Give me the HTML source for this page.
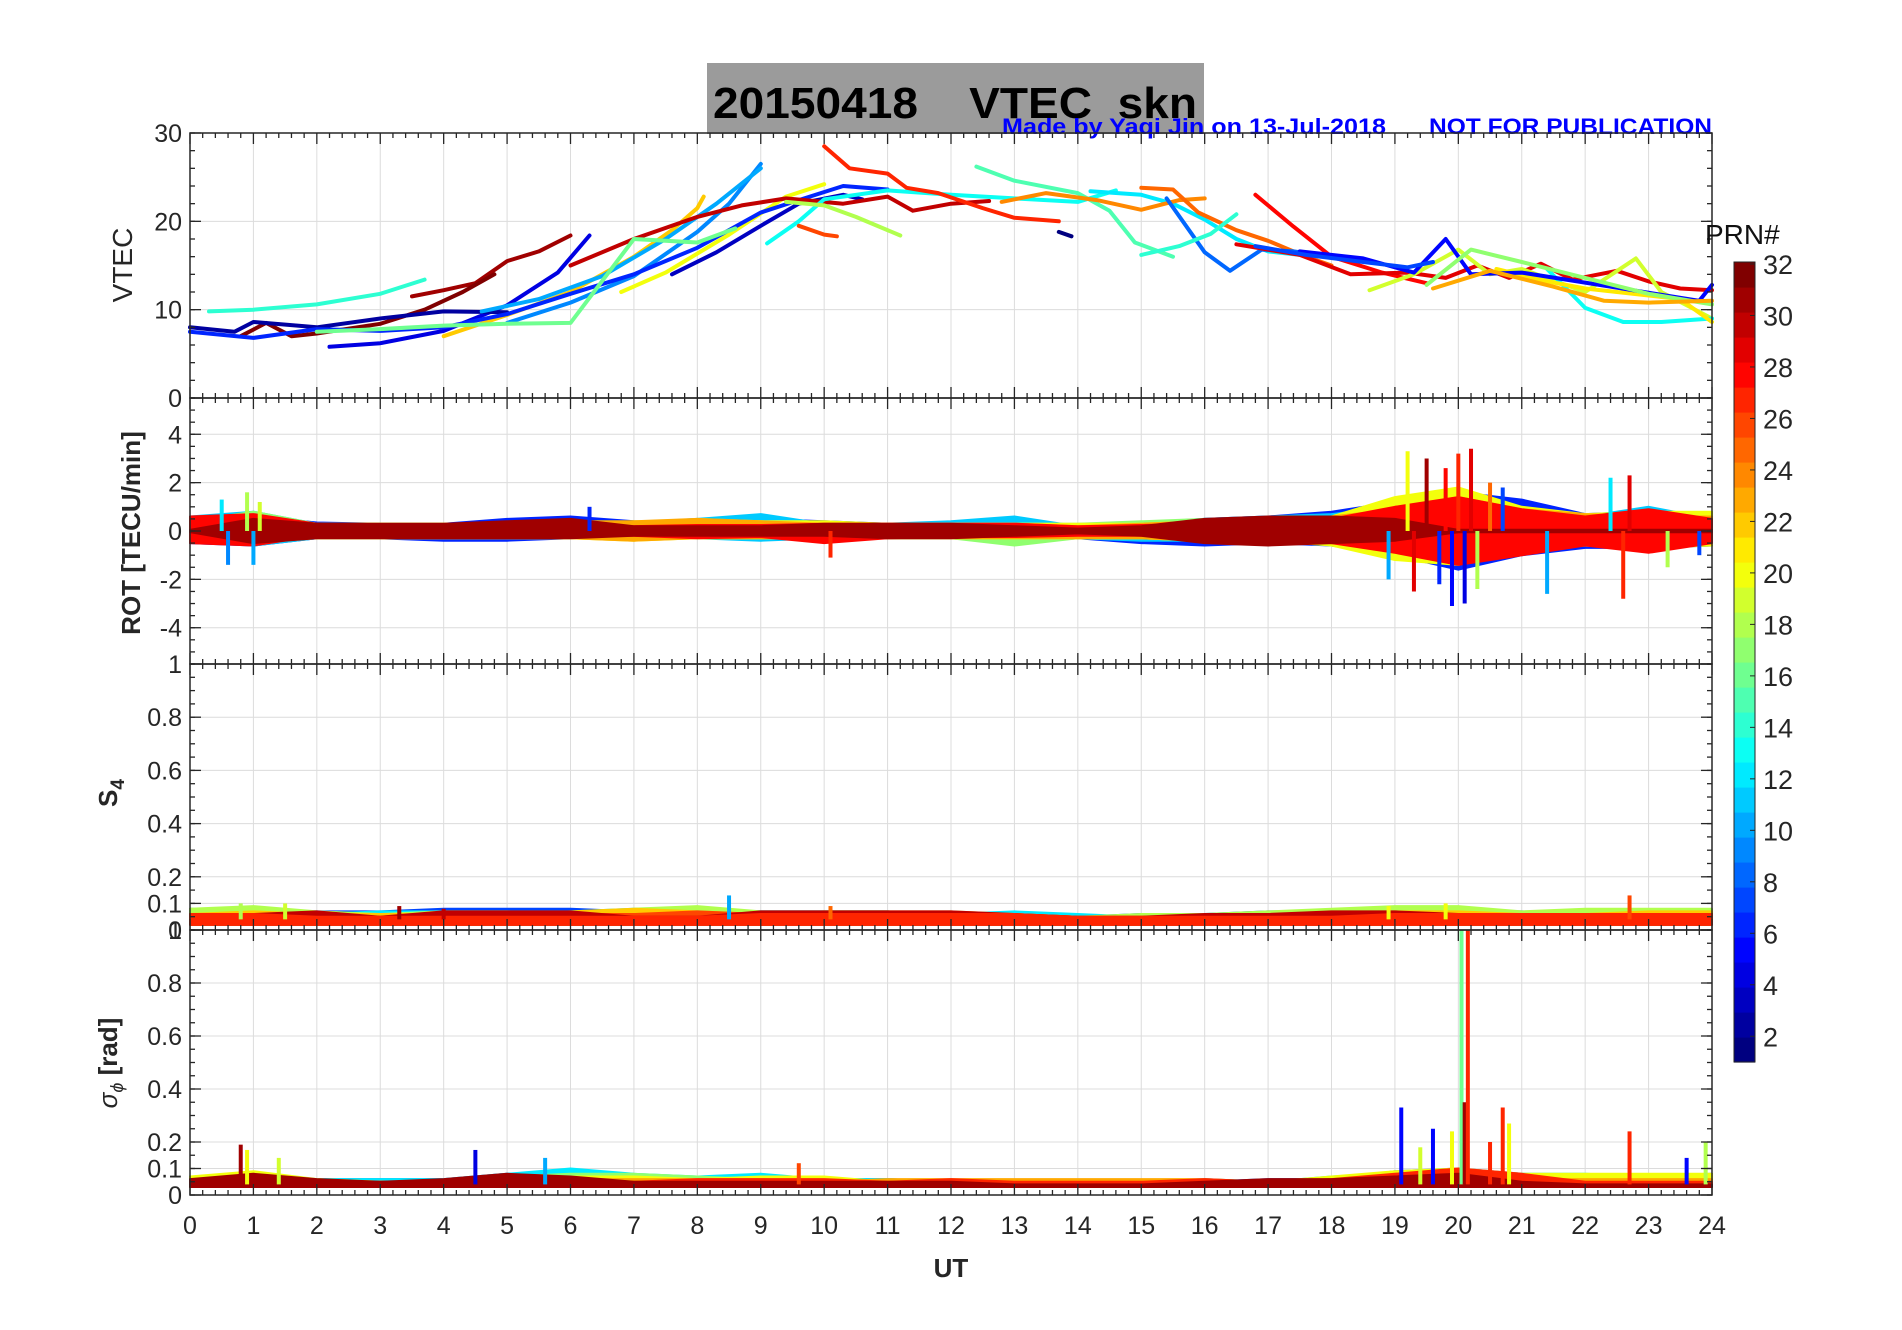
<!DOCTYPE html>
<html><head><meta charset="utf-8"><style>
html,body{margin:0;padding:0;background:#fff;}
svg{display:block;font-family:"Liberation Sans",sans-serif;}
</style></head><body>
<svg id="fig" width="1902" height="1330" viewBox="0 0 1902 1330" xmlns="http://www.w3.org/2000/svg">
<rect x="0" y="0" width="1902" height="1330" fill="#fff"/>
<rect x="707" y="63" width="497" height="71" fill="#9b9b9b"/>
<text x="713" y="118" font-size="44" font-weight="bold" textLength="484" lengthAdjust="spacingAndGlyphs" style="white-space:pre" xml:space="preserve">20150418    VTEC  skn</text>
<text x="1002" y="134" font-size="22" font-weight="bold" fill="#0000ff" textLength="384" lengthAdjust="spacingAndGlyphs">Made by Yaqi Jin on 13-Jul-2018</text>
<text x="1429" y="134" font-size="22" font-weight="bold" fill="#0000ff" textLength="283" lengthAdjust="spacingAndGlyphs">NOT FOR PUBLICATION</text>
<g id="plots"></g>
</svg>
<script>
// ---------- data ----------
const hours = [0,1,2,3,4,5,6,7,8,9,10,11,12,13,14,15,16,17,18,19,20,21,22,23,24];
const vtecTicks = [0,10,20,30];
const rotTicks = [-4,-2,0,2,4];
const s4Ticks = [0,0.1,0.2,0.4,0.6,0.8,1];
const sigTicks = [0,0.1,0.2,0.4,0.6,0.8,1];
const cbTicks = [2,4,6,8,10,12,14,16,18,20,22,24,26,28,30,32];

const vtecPrn = [14,31,32,4,2,22,9,10,20,3,6,30,16,13,27,26,18,1,15,12,24,25,8,28,14,29,19,13,21,5,17,7,23];
const vtecSeries = [
 [[0.3,9.8],[1,10],[2,10.6],[3,11.8],[3.7,13.4]],
 [[3.5,11.5],[4,12.2],[4.5,13],[5,15.5],[5.5,16.6],[6,18.4]],
 [[0.8,7],[1.2,8.5],[1.6,7],[2,7.3],[3,8.4],[3.7,10],[4.3,12],[4.8,14]],
 [[2.2,5.8],[3,6.2],[4,7.6],[5,10.5],[5.8,14.2],[6.3,18.4]],
 [[0,8],[0.7,7.5],[1,8.6],[2,8],[3,9],[4,9.8],[5,9.7]],
 [[4,7],[5,9.4],[6,12],[7,16],[7.6,19],[8,21.5],[8.1,22.8]],
 [[5,8.5],[6,10.8],[7,13.8],[8,18.8],[8.5,22],[9,26.5]],
 [[4.6,9.8],[5.5,11.2],[6.5,13.8],[7.5,18],[8.3,22],[9,26]],
 [[6.8,12],[7.5,14.2],[8.5,18.5],[9.4,22.8],[10,24.2]],
 [[7.6,14],[8.3,16.5],[9,19.5],[9.6,22],[10.3,23],[10.6,22.5]],
 [[0,7.5],[1,6.8],[2,7.8],[3,7.6],[4,8],[5,9.5],[6,11.8],[7,14],[8,17],[9,21],[9.6,22.4],[10.3,24],[11,23.6]],
 [[6,15],[7,18],[8,20.5],[8.7,21.8],[9.4,22.6],[10.3,22],[11,22.8],[11.4,21.2],[12,22],[12.6,22.3]],
 [[2,7.5],[3,7.8],[4,8.2],[5,8.4],[6,8.5],[7,18],[8,17.6],[8.6,19.2]],
 [[9.1,17.5],[9.6,20],[10,22.5],[11,23.5],[12,23],[13,22.6],[14,22.2],[14.6,23.5]],
 [[10,28.5],[10.4,26],[11,25.4],[11.3,23.8],[11.8,23.2],[12.5,21.5],[13,20.4],[13.7,20]],
 [[9.6,19.5],[10,18.5],[10.2,18.3]],
 [[9.4,22.2],[10,21.8],[10.5,20.5],[11.2,18.4]],
 [[13.7,18.8],[13.9,18.3]],
 [[12.4,26.2],[13,24.6],[14,23.2],[14.5,21.2],[14.9,17.6],[15.5,16]],
 [[14.2,23.4],[15,23],[15.5,22],[16,20.2],[16.5,18],[17,16.6],[17.5,16.2]],
 [[12.8,22.2],[13.5,23.2],[14.3,22.4],[15,21.3],[15.6,22.4],[16,22.6]],
 [[15,23.8],[15.5,23.6],[15.9,21],[16.5,19],[17,17.8],[17.6,16],[18,15]],
 [[15.4,22.6],[16,16.5],[16.4,14.4],[16.9,16.8],[17.4,16.6],[18,16]],
 [[16.8,23],[17.4,19.4],[18,16],[18.8,14.2],[19.5,13]],
 [[15,16.2],[15.6,17.2],[16.1,18.6],[16.5,20.8]],
 [[16.5,17.4],[17.5,16.2],[18.3,14],[19.2,14.2],[19.8,13.6],[20.3,15],[20.8,13.6],[21.3,15.2],[21.8,13.4],[22.5,14.4],[23,13.2],[23.5,12.4],[24,12.2]],
 [[18.6,12.2],[19.3,14],[20,16.8],[20.5,14],[21,14.6],[22,12],[22.8,15.8],[23.2,12],[24,9]],
 [[21.4,14.6],[22,10.2],[22.6,8.6],[23.2,8.6],[24,9]],
 [[20.6,14.6],[21.4,13.2],[22,12.4],[23,11.6],[23.5,11.2],[24,8.6]],
 [[17.5,16.6],[18.5,15.8],[19.3,14.2],[19.8,18],[20.2,14],[21,14.2],[23.8,11],[24,12.8]],
 [[19.5,12.8],[20.2,16.8],[21,15.4],[22,13.6],[23,11.8],[24,10.6]],
 [[16.8,17.2],[17.6,16.2],[18.5,15.4],[19.2,14.8],[19.6,15.4]],
 [[19.6,12.4],[20.5,14.4],[21.5,12.6],[22.3,11],[23,10.8],[24,11]]
];

const rotPrn = [6,11,17,20,23,28,31];
const rotUpper = [
 [0.5,0.6,0.35,0.3,0.3,0.5,0.6,0.4,0.35,0.5,0.4,0.3,0.3,0.4,0.25,0.35,0.5,0.6,0.8,1.2,1.6,1.3,0.7,0.8,0.6],
 [0.6,0.8,0.3,0.3,0.3,0.3,0.4,0.35,0.5,0.7,0.3,0.3,0.4,0.6,0.2,0.35,0.5,0.6,0.7,1.0,1.4,0.8,0.6,1.0,0.5],
 [0.4,0.8,0.3,0.3,0.3,0.3,0.4,0.3,0.5,0.4,0.3,0.3,0.3,0.3,0.3,0.4,0.5,0.4,0.5,0.8,1.4,0.8,0.7,0.7,0.5],
 [0.4,0.6,0.3,0.3,0.3,0.3,0.3,0.4,0.4,0.4,0.4,0.3,0.3,0.3,0.3,0.3,0.4,0.5,0.6,1.4,1.8,1.0,0.7,0.8,0.8],
 [0.3,0.4,0.3,0.3,0.3,0.3,0.4,0.4,0.5,0.4,0.3,0.3,0.3,0.3,0.2,0.3,0.4,0.4,0.6,0.9,1.4,0.9,0.7,0.6,0.6],
 [0.6,0.7,0.3,0.2,0.2,0.2,0.2,0.2,0.25,0.25,0.3,0.3,0.3,0.3,0.2,0.25,0.3,0.35,0.5,1.0,1.4,0.9,0.6,0.9,0.5],
 [0.05,0.5,0.3,0.3,0.3,0.4,0.5,0.2,0.2,0.2,0.3,0.3,0.3,0.2,0.1,0.2,0.5,0.6,0.6,0.5,0.05,0.05,0.05,0.05,0.05]
];
const rotLower = [
 [-0.5,-0.6,-0.3,-0.3,-0.4,-0.4,-0.3,-0.3,-0.3,-0.3,-0.3,-0.3,-0.3,-0.3,-0.3,-0.5,-0.6,-0.5,-0.6,-1.0,-1.6,-1.0,-0.7,-0.7,-0.6],
 [-0.4,-0.6,-0.3,-0.3,-0.3,-0.3,-0.3,-0.3,-0.3,-0.4,-0.3,-0.3,-0.3,-0.5,-0.3,-0.4,-0.4,-0.4,-0.6,-1.0,-1.2,-0.8,-0.6,-0.6,-0.5],
 [-0.4,-0.5,-0.3,-0.3,-0.3,-0.3,-0.3,-0.3,-0.3,-0.3,-0.3,-0.3,-0.3,-0.6,-0.3,-0.3,-0.4,-0.4,-0.5,-0.6,-1.2,-0.6,-0.6,-0.8,-0.5],
 [-0.3,-0.4,-0.3,-0.3,-0.3,-0.3,-0.3,-0.4,-0.3,-0.3,-0.3,-0.3,-0.3,-0.3,-0.3,-0.3,-0.4,-0.4,-0.6,-1.2,-1.4,-0.8,-0.6,-0.7,-0.6],
 [-0.3,-0.4,-0.3,-0.3,-0.3,-0.3,-0.3,-0.4,-0.3,-0.3,-0.3,-0.3,-0.3,-0.3,-0.3,-0.3,-0.4,-0.4,-0.5,-0.7,-1.0,-0.7,-0.5,-0.5,-0.5],
 [-0.5,-0.6,-0.2,-0.2,-0.2,-0.2,-0.2,-0.2,-0.3,-0.25,-0.5,-0.3,-0.25,-0.25,-0.2,-0.2,-0.3,-0.35,-0.5,-0.9,-1.4,-1.0,-0.6,-0.9,-0.5],
 [-0.05,-0.5,-0.3,-0.3,-0.3,-0.3,-0.3,-0.2,-0.2,-0.2,-0.2,-0.3,-0.3,-0.2,-0.1,-0.2,-0.5,-0.6,-0.5,-0.4,-0.05,-0.05,-0.05,-0.05,-0.05]
];
const rotSpikeT = [0.5,0.6,0.9,1.0,1.1,6.3,10.1,18.9,19.2,19.3,19.5,19.7,19.8,19.9,20.0,20.1,20.2,20.3,20.5,20.7,21.4,22.4,22.6,22.7,23.3,23.8];
const rotSpikeV = [1.3,-1.4,1.6,-1.4,1.2,1.0,-1.1,-2.0,3.3,-2.5,3.0,-2.2,2.6,-3.1,3.2,-3.0,3.4,-2.4,2.0,1.8,-2.6,2.2,-2.8,2.3,-1.5,-1.0];
const rotSpikePrn = [12,9,18,10,19,6,27,10,20,29,31,6,28,5,27,4,29,18,25,7,10,12,27,29,18,7];

const s4Prn = [7,12,18,22,26,30,27];
const s4Upper = [
 [0.08,0.07,0.07,0.07,0.08,0.08,0.08,0.07,0.07,0.07,0.07,0.07,0.06,0.06,0.05,0.06,0.06,0.07,0.07,0.08,0.07,0.07,0.06,0.06,0.06],
 [0.07,0.07,0.06,0.07,0.07,0.07,0.07,0.08,0.08,0.07,0.07,0.07,0.06,0.07,0.06,0.05,0.06,0.06,0.06,0.07,0.07,0.06,0.07,0.07,0.07],
 [0.08,0.09,0.07,0.06,0.07,0.07,0.06,0.08,0.09,0.07,0.07,0.07,0.06,0.06,0.05,0.06,0.06,0.07,0.08,0.09,0.09,0.07,0.08,0.08,0.08],
 [0.06,0.07,0.06,0.06,0.06,0.06,0.07,0.08,0.07,0.06,0.07,0.07,0.07,0.06,0.05,0.05,0.05,0.06,0.06,0.07,0.07,0.06,0.06,0.07,0.07],
 [0.05,0.06,0.06,0.05,0.06,0.06,0.06,0.06,0.07,0.06,0.06,0.06,0.06,0.06,0.05,0.05,0.05,0.06,0.06,0.06,0.06,0.06,0.06,0.06,0.06],
 [0.06,0.06,0.07,0.05,0.07,0.07,0.07,0.05,0.05,0.07,0.07,0.07,0.07,0.06,0.05,0.05,0.06,0.06,0.07,0.07,0.06,0.06,0.06,0.06,0.06],
 [0.06,0.06,0.05,0.05,0.05,0.05,0.05,0.05,0.05,0.06,0.06,0.06,0.06,0.06,0.05,0.05,0.05,0.05,0.05,0.06,0.06,0.06,0.06,0.06,0.06]
];
const s4Lower = [0.02,0.02,0.02,0.02,0.02,0.02,0.02,0.02,0.02,0.02,0.02,0.02,0.02,0.02,0.02,0.02,0.02,0.02,0.02,0.02,0.02,0.02,0.02,0.02,0.02];
const s4SpikeT = [0.8,1.5,3.3,4.0,8.5,10.1,18.9,19.8,22.7];
const s4SpikeV = [0.1,0.1,0.09,0.08,0.13,0.09,0.09,0.1,0.13];
const s4SpikePrn = [18,19,31,30,10,25,20,20,26];

const sigPrn = [8,12,17,20,23,27,31];
const sigUpper = [
 [0.07,0.06,0.06,0.06,0.06,0.08,0.08,0.07,0.07,0.07,0.06,0.06,0.05,0.05,0.05,0.05,0.05,0.06,0.06,0.09,0.1,0.08,0.07,0.07,0.08],
 [0.07,0.07,0.06,0.06,0.06,0.08,0.1,0.08,0.07,0.08,0.06,0.06,0.05,0.05,0.05,0.05,0.06,0.05,0.07,0.08,0.09,0.08,0.08,0.07,0.06],
 [0.06,0.08,0.06,0.05,0.05,0.07,0.08,0.08,0.07,0.06,0.05,0.05,0.05,0.05,0.05,0.05,0.05,0.05,0.05,0.06,0.08,0.07,0.06,0.07,0.07],
 [0.07,0.09,0.06,0.05,0.05,0.06,0.07,0.07,0.06,0.07,0.07,0.05,0.05,0.05,0.05,0.05,0.05,0.05,0.07,0.09,0.1,0.08,0.08,0.08,0.08],
 [0.05,0.06,0.05,0.05,0.05,0.06,0.06,0.06,0.06,0.06,0.05,0.06,0.06,0.06,0.06,0.06,0.06,0.05,0.05,0.06,0.08,0.06,0.06,0.06,0.06],
 [0.06,0.06,0.05,0.05,0.05,0.06,0.06,0.05,0.06,0.06,0.06,0.05,0.06,0.05,0.05,0.05,0.06,0.05,0.06,0.08,0.1,0.08,0.05,0.05,0.05],
 [0.06,0.08,0.06,0.05,0.06,0.08,0.07,0.05,0.05,0.05,0.05,0.05,0.05,0.04,0.04,0.04,0.05,0.06,0.06,0.07,0.08,0.05,0.04,0.04,0.04]
];
const sigLower = [0.03,0.03,0.03,0.03,0.03,0.03,0.03,0.03,0.03,0.03,0.03,0.03,0.03,0.03,0.03,0.03,0.03,0.03,0.03,0.03,0.03,0.03,0.03,0.03,0.03];
const sigSpikeT = [0.8,0.9,1.4,4.5,5.6,9.6,19.1,19.4,19.6,19.9,20.05,20.1,20.15,20.5,20.7,20.8,22.7,23.6,23.9];
const sigSpikeV = [0.19,0.17,0.14,0.17,0.14,0.12,0.33,0.18,0.25,0.24,1.0,0.35,1.0,0.2,0.33,0.27,0.24,0.14,0.2];
const sigSpikePrn = [31,20,19,4,10,26,5,19,5,20,16,31,27,27,27,20,27,5,18];

// ---------- layout ----------
const X0 = 190, X1 = 1712;
const panels = [
 {name:'vtec', top:133, bot:398, min:0, max:30, ticks:vtecTicks, minor:2},
 {name:'rot', top:398, bot:664, min:-5.5, max:5.5, ticks:rotTicks, minor:0.5},
 {name:'s4', top:664, bot:930, min:0, max:1, ticks:s4Ticks, minor:0.05},
 {name:'sigma', top:930, bot:1195, min:0, max:1, ticks:sigTicks, minor:0.05}
];
const NS = 'http://www.w3.org/2000/svg';
const root = document.getElementById('plots');
function mk(tag, attrs, parent){
  const e = document.createElementNS(NS, tag);
  for (const k in attrs) e.setAttribute(k, attrs[k]);
  (parent||root).appendChild(e);
  return e;
}
function xs(h){ return X0 + (X1 - X0) * h / 24; }
function ysFor(p){ return v => p.bot - (p.bot - p.top) * (v - p.min) / (p.max - p.min); }
function jet(prn){
  const t = (prn - 1) / 31;
  const c = v => Math.round(255 * Math.max(0, Math.min(1, v)));
  return 'rgb(' + c(1.5 - Math.abs(4*t - 3)) + ',' + c(1.5 - Math.abs(4*t - 2)) + ',' + c(1.5 - Math.abs(4*t - 1)) + ')';
}
function fmt(v){ return (Math.round(v*10)/10).toString(); }

panels.forEach((p, pi) => {
  const ys = ysFor(p);
  const g = mk('g', {});
  
  
  hours.forEach(h => { if (h > 0 && h < 24) mk('line', {x1:xs(h), x2:xs(h), y1:p.top, y2:p.bot, stroke:'#dcdcdc', 'stroke-width':1}, g); });
  p.ticks.forEach(v => { if (v > p.min && v < p.max) mk('line', {x1:X0, x2:X1, y1:ys(v), y2:ys(v), stroke:'#dcdcdc', 'stroke-width':1}, g); });
  p.group = mk('g', {});
  
  
});

function polyline(p, pts, color, w, parent){
  const ys = ysFor(p);
  const d = pts.map(q => xs(q[0]).toFixed(1) + ',' + ys(q[1]).toFixed(1)).join(' ');
  return mk('polyline', {points:d, fill:'none', stroke:color, 'stroke-width':w, 'stroke-linejoin':'round', 'stroke-linecap':'round'}, parent);
}
function band(p, up, lo, color, parent){
  const ys = ysFor(p);
  let d = '';
  hours.forEach((h,i) => { d += (i ? 'L' : 'M') + xs(h).toFixed(1) + ',' + ys(up[i]).toFixed(1); });
  for (let i = hours.length - 1; i >= 0; i--) d += 'L' + xs(hours[i]).toFixed(1) + ',' + ys(lo[i]).toFixed(1);
  return mk('path', {d:d + 'Z', fill:color, stroke:color, 'stroke-width':2, 'stroke-linejoin':'round'}, parent);
}
function spikes(p, ts, vs, prns, base, parent){
  const ys = ysFor(p);
  ts.forEach((t,i) => {
    const l = mk('line', {x1:xs(t), x2:xs(t), y1:ys(base), y2:ys(vs[i]), stroke:jet(prns[i]), 'stroke-width':4}, parent);
    
    
  });
}

vtecSeries.forEach((s,i) => {
  const l = polyline(panels[0], s, jet(vtecPrn[i]), 4, panels[0].group);
  
  
});
rotPrn.forEach((prn,i) => {
  const b = band(panels[1], rotUpper[i], rotLower[i], jet(prn), panels[1].group);
  
  
});
spikes(panels[1], rotSpikeT, rotSpikeV, rotSpikePrn, 0, panels[1].group);
s4Prn.forEach((prn,i) => {
  const b = band(panels[2], s4Upper[i], s4Lower, jet(prn), panels[2].group);
  
  
});
spikes(panels[2], s4SpikeT, s4SpikeV, s4SpikePrn, 0.04, panels[2].group);
sigPrn.forEach((prn,i) => {
  const b = band(panels[3], sigUpper[i], sigLower, jet(prn), panels[3].group);
  
  
});
spikes(panels[3], sigSpikeT, sigSpikeV, sigSpikePrn, 0.04, panels[3].group);

panels.forEach((p, pi) => {
  const ys = ysFor(p);
  const g = mk('g', {});
  
  
  mk('rect', {x:X0, y:p.top, width:X1-X0, height:p.bot-p.top, fill:'none', stroke:'#262626', 'stroke-width':1.5}, g);
  for (let k = 0; k <= 120; k++) {
    const h = k / 5, x = xs(h), L = (k % 5 === 0) ? 11 : 5;
    mk('line', {x1:x, x2:x, y1:p.top, y2:p.top+L, stroke:'#262626', 'stroke-width':1.3}, g);
    mk('line', {x1:x, x2:x, y1:p.bot, y2:p.bot-L, stroke:'#262626', 'stroke-width':1.3}, g);
  }
  for (let v = p.min; v <= p.max + 1e-9; v += p.minor) {
    const y = ys(v);
    mk('line', {x1:X0, x2:X0+5, y1:y, y2:y, stroke:'#262626', 'stroke-width':1.3}, g);
    mk('line', {x1:X1, x2:X1-5, y1:y, y2:y, stroke:'#262626', 'stroke-width':1.3}, g);
  }
  p.ticks.forEach(v => {
    const y = ys(v);
    mk('line', {x1:X0, x2:X0+11, y1:y, y2:y, stroke:'#262626', 'stroke-width':1.3}, g);
    mk('line', {x1:X1, x2:X1-11, y1:y, y2:y, stroke:'#262626', 'stroke-width':1.3}, g);
    const t = mk('text', {x:X0-8, y:y+9, 'font-size':25, 'text-anchor':'end', fill:'#262626'}, g);
    t.textContent = fmt(v);
    
    
  });
});
hours.forEach(h => {
  const t = mk('text', {x:xs(h), y:1234, 'font-size':25, 'text-anchor':'middle', fill:'#262626'});
  t.textContent = h;
  
  
});
const ut = mk('text', {x:951, y:1277, 'font-size':26, 'font-weight':'bold', 'text-anchor':'middle', fill:'#262626'});
ut.textContent = 'UT';



function ylabel(txt, x, y, bold, name){
  const t = mk('text', {x:x, y:y, 'font-size':bold ? 26 : 28, 'font-weight':bold ? 'bold' : 'normal', 'text-anchor':'middle', fill:'#262626', transform:'rotate(-90 ' + x + ' ' + y + ')'});
  t.textContent = txt;
  
  
  return t;
}
ylabel('VTEC', 132, 265, false, 'vtec-axis-title');
ylabel('ROT [TECU/min]', 140, 533, true, 'rot-axis-title');
const s4l = ylabel('S', 117, 793, true, 's4-axis-title');
const sub = document.createElementNS(NS, 'tspan'); sub.setAttribute('font-size', '19'); sub.setAttribute('dy', '7'); sub.textContent = '4'; s4l.appendChild(sub);
const sgl = ylabel('', 117, 1063, true, 'sigma-axis-title');
const s1 = document.createElementNS(NS, 'tspan'); s1.setAttribute('font-style', 'italic'); s1.setAttribute('font-weight', 'normal'); s1.textContent = 'σ'; sgl.appendChild(s1);
const s2 = document.createElementNS(NS, 'tspan'); s2.setAttribute('font-size', '18'); s2.setAttribute('dy', '6'); s2.setAttribute('font-style', 'italic'); s2.setAttribute('font-weight', 'normal'); s2.textContent = 'ϕ'; sgl.appendChild(s2);
const s3 = document.createElementNS(NS, 'tspan'); s3.setAttribute('dy', '-6'); s3.textContent = ' [rad]'; sgl.appendChild(s3);

const CB = {x:1734, w:21, top:262, bot:1062};
const cbg = mk('g', {});


for (let prn = 1; prn <= 32; prn++) {
  const h = (CB.bot - CB.top) / 32;
  mk('rect', {x:CB.x, y:CB.top + (32 - prn) * h, width:CB.w, height:h + 0.6, fill:jet(prn)}, cbg);
}
mk('rect', {x:CB.x, y:CB.top, width:CB.w, height:CB.bot-CB.top, fill:'none', stroke:'#262626', 'stroke-width':1}, cbg);
cbTicks.forEach(v => {
  const y = CB.top + 2 + (32 - v) * (CB.bot - CB.top - 2) / 31;
  mk('line', {x1:CB.x+CB.w-5, x2:CB.x+CB.w, y1:y, y2:y, stroke:'#262626'}, cbg);
  const t = mk('text', {x:CB.x+CB.w+8, y:y+10, 'font-size':27, fill:'#262626'}, cbg);
  t.textContent = v;
  
  
});
const prnT = mk('text', {x:1705, y:244, 'font-size':28, fill:'#111'});
prnT.textContent = 'PRN#';


</script>
</body></html>
